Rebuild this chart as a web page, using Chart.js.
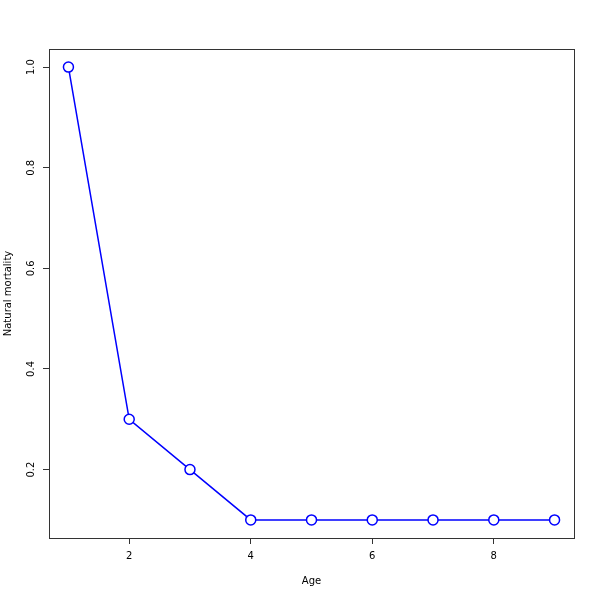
<!DOCTYPE html>
<html>
<head>
<meta charset="utf-8">
<script src="https://cdn.jsdelivr.net/npm/chart.js@4.4.0/dist/chart.umd.min.js"></script>
<style>
  html, body { margin: 0; padding: 0; background: #fff; }
  #wrap { width: 600px; height: 600px; }
</style>
</head>
<body>
<div id="wrap"><canvas id="myChart" width="600" height="600"></canvas></div>
<script>
const ages = [1, 2, 3, 4, 5, 6, 7, 8, 9];
const mortality = [1.0, 0.3, 0.2, 0.1, 0.1, 0.1, 0.1, 0.1, 0.1];
const xTicks = [2, 4, 6, 8];
const yTicks = [0.2, 0.4, 0.6, 0.8, 1.0];

const points = ages.map((a, i) => ({ x: a, y: mortality[i] }));

// box around the plot region, like R's box()
const boxPlugin = {
  id: "box",
  afterDraw(chart) {
    const { ctx, chartArea } = chart;
    ctx.save();
    ctx.strokeStyle = "#333";
    ctx.lineWidth = 1;
    ctx.strokeRect(
      Math.round(chartArea.left) + 0.5,
      Math.round(chartArea.top) + 0.5,
      Math.round(chartArea.right - chartArea.left),
      Math.round(chartArea.bottom - chartArea.top)
    );
    ctx.restore();
  },
};

const ctx = document.getElementById("myChart");
new Chart(ctx, {
  type: "line",
  data: {
    datasets: [
      {
        data: points,
        borderColor: "#0000ff",
        borderWidth: 1.5,
        pointRadius: 5,
        pointBorderWidth: 1.5,
        pointBackgroundColor: "#ffffff",
        pointBorderColor: "#0000ff",
        tension: 0,
      },
    ],
  },
  options: {
    responsive: false,
    animation: false,
    layout: { padding: { top: 49, right: 26, left: 0, bottom: 0 } },
    plugins: {
      legend: { display: false },
      tooltip: { enabled: false },
    },
    scales: {
      x: {
        type: "linear",
        min: 0.68,
        max: 9.32,
        afterBuildTicks: (axis) => {
          axis.ticks = xTicks.map((v) => ({ value: v }));
        },
        afterFit: (axis) => {
          axis.height = 62;
        },
        grid: {
          display: true,
          drawOnChartArea: false,
          drawTicks: true,
          tickLength: 6,
          tickColor: "#333",
        },
        border: { display: false },
        ticks: {
          color: "#000",
          font: { family: "DejaVu Sans", size: 10 },
          padding: 6,
          maxRotation: 0,
          callback: (v) => String(v),
        },
        title: {
          display: true,
          text: "Age",
          color: "#000",
          font: { family: "DejaVu Sans", size: 10 },
          padding: { top: 0, bottom: 13 },
        },
      },
      y: {
        type: "linear",
        min: 0.064,
        max: 1.036,
        afterBuildTicks: (axis) => {
          axis.ticks = yTicks.map((v) => ({ value: v }));
        },
        afterFit: (axis) => {
          axis.width = 49;
        },
        grid: {
          display: true,
          drawOnChartArea: false,
          drawTicks: true,
          tickLength: 6,
          tickColor: "#333",
        },
        border: { display: false },
        ticks: {
          color: "#000",
          font: { family: "DejaVu Sans", size: 10 },
          padding: 4,
          crossAlign: "center",
          minRotation: 90,
          maxRotation: 90,
          callback: (v) => v.toFixed(1),
        },
        title: {
          display: true,
          text: "Natural mortality",
          color: "#000",
          font: { family: "DejaVu Sans", size: 10 },
          padding: { top: 2, bottom: 0 },
        },
      },
    },
  },
  plugins: [boxPlugin],
});
</script>
</body>
</html>
